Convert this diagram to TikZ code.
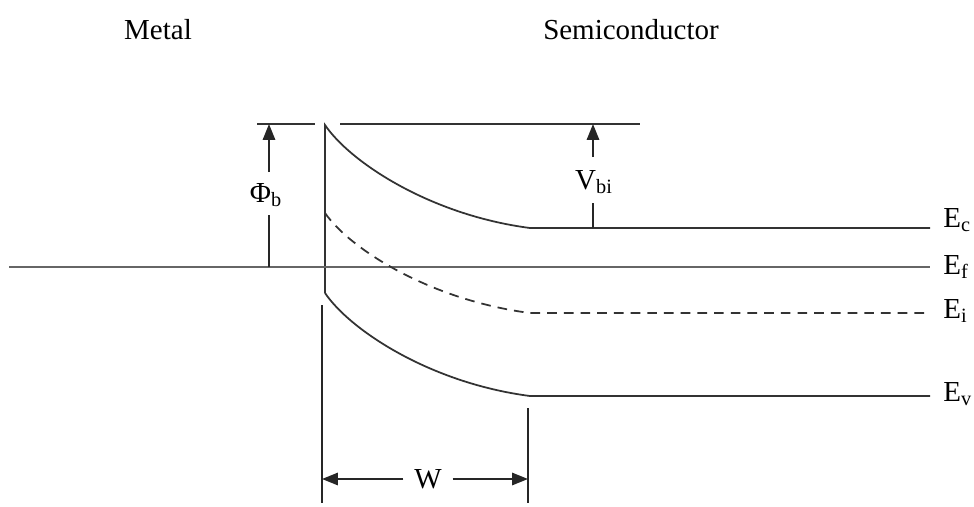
\documentclass[tikz,border=0pt]{standalone}
\usepackage{fontspec}
\setmainfont{Liberation Serif}
\usetikzlibrary{arrows.meta}

\begin{document}
\begin{tikzpicture}[
  x=0.02cm, y=-0.02cm,
  font=\fontsize{16.5}{19}\selectfont,
  band/.style={draw=black!80, line width=1pt},
  fermi/.style={draw=black!60, line width=1.4pt},
  dim/.style={draw=black!85, line width=1pt},
  dimarrow/.style={-{Triangle[length=9pt,width=7pt]}},
  lbl/.style={inner sep=1pt},
  elbl/.style={anchor=west, inner sep=0pt}
]
\useasboundingbox (0,0) rectangle (974,507);

\node[lbl] (metal) at (158,30) {Metal};
\node[lbl] (semi) at (631,30) {Semiconductor};

\node[elbl] (Ec) at (943,220) {E\textsubscript{c}};
\node[elbl] (Ef) at (943,267) {E\textsubscript{f}};
\node[elbl] (Ei) at (943,311) {E\textsubscript{i}};
\node[elbl] (Ev) at (943,394) {E\textsubscript{v}};

\coordinate (ctop) at (325,125);
\coordinate (vtop) at (325,293);

\draw[band] (257,124) -- (315,124);
\draw[band] (340,124) -- (640,124);
\draw[band] (vtop) -- (ctop) .. controls (350,162) and (430,215) .. (530,228) -- (930,228);
\draw[fermi] (9,267) -- (930,267);
\draw[band, dash pattern=on 5.5pt off 4pt] (325,213) .. controls (350,249) and (430,300) .. (530,313) -- (930,313);
\draw[band] (vtop) .. controls (350,330) and (430,383) .. (530,396) -- (930,396);

\node[lbl] (phib) at (266,195) {Φ\textsubscript{b}};
\draw[dim] (269,267) -- (269,215);
\draw[dim, dimarrow] (269,172) -- (269,124);

\node[lbl] (vbi) at (594,182) {V\textsubscript{bi}};
\draw[dim] (593,228) -- (593,203);
\draw[dim, dimarrow] (593,157) -- (593,124);

\draw[dim] (322,305) -- (322,503);
\draw[dim] (528,408) -- (528,503);
\node[inner sep=6pt] (w) at (428,479) {W};
\draw[dim, dimarrow] (w.west) -- (322,479);
\draw[dim, dimarrow] (w.east) -- (528,479);
\end{tikzpicture}
\end{document}
